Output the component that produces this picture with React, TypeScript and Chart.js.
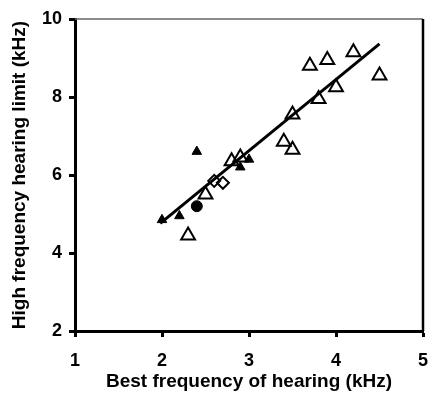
import React, { useEffect, useRef } from "react";
import { Chart, registerables } from "chart.js";

Chart.register(...registerables);

const openTriangleX = [2.3, 2.5, 2.8, 2.9, 3.4, 3.5, 3.5, 3.7, 3.8, 3.9, 4.0, 4.2, 4.5];
const openTriangleY = [4.45, 5.5, 6.35, 6.45, 6.85, 6.65, 7.55, 8.8, 7.95, 8.95, 8.25, 9.15, 8.55];

const filledTriangleX = [2.0, 2.2, 2.4, 2.9, 3.0];
const filledTriangleY = [4.85, 4.95, 6.6, 6.2, 6.4];

const openDiamondX = [2.6, 2.7];
const openDiamondY = [5.85, 5.8];

const filledCircleX = [2.4];
const filledCircleY = [5.2];

const fitLineX = [1.98, 4.5];
const fitLineY = [4.76, 9.36];

const xTicks = [1, 2, 3, 4, 5];
const yTicks = [2, 4, 6, 8, 10];

const pts = (xs: number[], ys: number[]) => xs.map((x, i) => ({ x, y: ys[i] }));

const FONT = '"Liberation Sans", Arial, sans-serif';

const boxPlugin = {
  id: "boxPlugin",
  afterDraw(chart: any) {
    const { ctx, chartArea } = chart;
    ctx.save();
    ctx.strokeStyle = "#666";
    ctx.lineWidth = 1.5;
    ctx.beginPath();
    ctx.moveTo(chartArea.left, chartArea.top);
    ctx.lineTo(chartArea.right, chartArea.top);
    ctx.stroke();
    ctx.strokeStyle = "#000";
    ctx.lineWidth = 2.5;
    ctx.beginPath();
    ctx.moveTo(chartArea.right, chartArea.top);
    ctx.lineTo(chartArea.right, chartArea.bottom);
    ctx.stroke();
    ctx.restore();
  },
};

export default function App() {
  const ref = useRef<HTMLCanvasElement | null>(null);
  useEffect(() => {
    if (!ref.current) return;
    const chart = new Chart(ref.current, {
      type: "scatter",
      data: {
        datasets: [
          {
            label: "fit",
            data: pts(fitLineX, fitLineY),
            showLine: true,
            borderColor: "#000",
            borderWidth: 3,
            pointRadius: 0,
            fill: false,
          } as any,
          {
            label: "open triangles",
            data: pts(openTriangleX, openTriangleY),
            pointStyle: "triangle",
            pointRadius: 8,
            borderWidth: 2,
            borderColor: "#000",
            backgroundColor: "rgba(255,255,255,0)",
          },
          {
            label: "filled triangles",
            data: pts(filledTriangleX, filledTriangleY),
            pointStyle: "triangle",
            pointRadius: 5.5,
            borderWidth: 1,
            borderColor: "#000",
            backgroundColor: "#000",
          },
          {
            label: "open diamonds",
            data: pts(openDiamondX, openDiamondY),
            pointStyle: "rectRot",
            pointRadius: 6,
            borderWidth: 2,
            borderColor: "#000",
            backgroundColor: "rgba(255,255,255,0)",
          },
          {
            label: "filled circle",
            data: pts(filledCircleX, filledCircleY),
            pointStyle: "circle",
            pointRadius: 5.5,
            borderWidth: 1,
            borderColor: "#000",
            backgroundColor: "#000",
          },
        ],
      },
      options: {
        responsive: false,
        animation: false,
        layout: { autoPadding: false, padding: { top: 19, right: 5, left: 0, bottom: 0 } },
        plugins: { legend: { display: false }, tooltip: { enabled: false } },
        scales: {
          x: {
            type: "linear",
            min: 1,
            max: 5,
            afterFit: (s: any) => {
              s.height = 62;
              s.paddingRight = 0;
              s.paddingLeft = 0;
            },
            afterBuildTicks: (s: any) => {
              s.ticks = xTicks.map((v) => ({ value: v }));
            },
            ticks: {
              color: "#000",
              font: { family: FONT, size: 18, weight: "bold" },
              padding: 13,
              maxRotation: 0,
            },
            grid: {
              drawOnChartArea: false,
              drawTicks: true,
              tickLength: 6,
              tickWidth: 3,
              tickColor: "#000",
            },
            border: { display: true, color: "#000", width: 3 },
            title: {
              display: true,
              text: "Best frequency of hearing (kHz)",
              color: "#000",
              font: { family: FONT, size: 19, weight: "bold" },
              padding: { top: 0, bottom: 0 },
            },
          },
          y: {
            type: "linear",
            min: 2,
            max: 10,
            afterFit: (s: any) => {
              s.width = 75;
              s.paddingTop = 0;
              s.paddingBottom = 0;
            },
            afterBuildTicks: (s: any) => {
              s.ticks = yTicks.map((v) => ({ value: v }));
            },
            ticks: {
              color: "#000",
              font: { family: FONT, size: 18, weight: "bold" },
              padding: 7,
            },
            grid: {
              drawOnChartArea: false,
              drawTicks: true,
              tickLength: 6,
              tickWidth: 3,
              tickColor: "#000",
            },
            border: { display: true, color: "#000", width: 3 },
            title: {
              display: true,
              text: "High frequency hearing limit (kHz)",
              color: "#000",
              font: { family: FONT, size: 19, weight: "bold" },
              padding: { top: 8, bottom: 0 },
            },
          },
        },
      },
      plugins: [boxPlugin],
    });
    return () => chart.destroy();
  }, []);
  return (
    <div style={{ position: "absolute", left: 0, top: 0, width: 428, height: 393, background: "#fff" }}>
      <canvas ref={ref} width={428} height={393} />
    </div>
  );
}
